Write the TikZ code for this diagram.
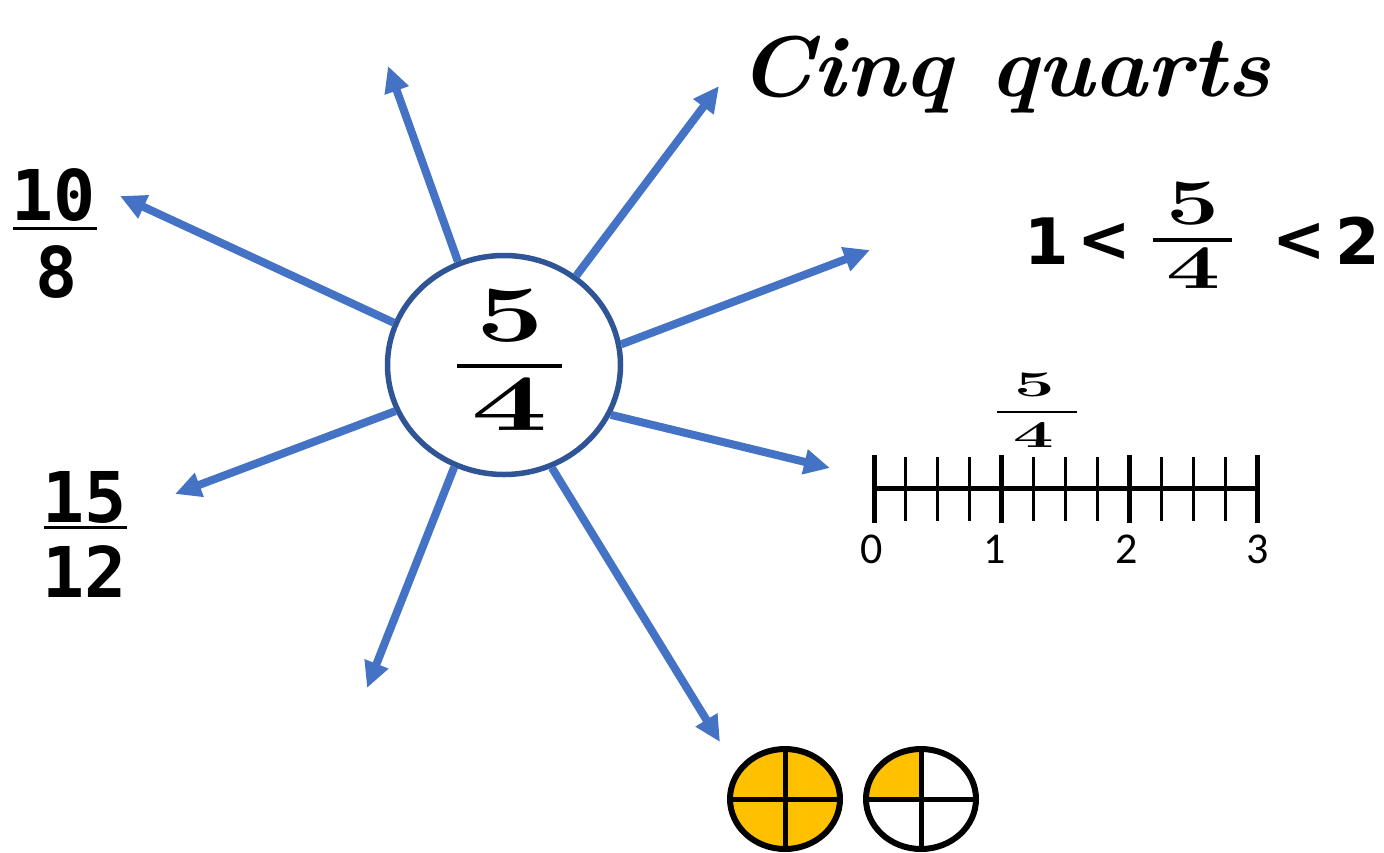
\documentclass[tikz,border=0pt]{standalone}
\usepackage{fontspec}
\usepackage{graphicx}
\usetikzlibrary{arrows.meta,shapes.geometric}
\newfontfamily\monofont{DejaVu Sans Mono}
\newfontfamily\dvsans{DejaVu Sans}
\newfontfamily\calfont{Carlito}
\definecolor{arrowblue}{HTML}{4472C4}
\definecolor{ringblue}{HTML}{2F5597}
\definecolor{pieyellow}{HTML}{FFC000}

\begin{document}
\begin{tikzpicture}[x=1pt,y=-1pt,
    ray/.style={arrowblue, line width=8pt, -{Triangle[length=26pt,width=24pt]}},
    digit/.style={inner sep=0pt, anchor=center},
    pie/.style={ellipse, draw, line width=6pt, inner sep=0pt, minimum width=110pt, minimum height=100pt}]
    \useasboundingbox (0,0) rectangle (1384,852);

    \node[ellipse, draw=ringblue, line width=5.5pt, inner sep=0pt,
          minimum width=233pt, minimum height=219pt] (whole) at (504,365) {};
    \node[digit] (c5) at (510,316) {\fontsize{80}{80}\selectfont\bfseries\scalebox{1.5}[1]{5}};
    \node[digit] (c4) at (510,404) {\fontsize{80}{80}\selectfont\bfseries\scalebox{1.7}[1]{4}};
    \draw[line width=4pt] (457,366) -- (562,366);

    \coordinate (t1) at (388,66);
    \coordinate (t2) at (719,86);
    \coordinate (t3) at (870,250);
    \coordinate (t4) at (830,468);
    \coordinate (t5) at (720,742);
    \coordinate (t6) at (367,688);
    \coordinate (t7) at (175,494);
    \coordinate (t8) at (120,196);
    \foreach \a/\t in {114.5/t1, 51/t2, 10.7/t3, -25.7/t4, -65.7/t5, 244.3/t6, 203.8/t7, 159.3/t8}
        \draw[ray] (whole.\a) -- (\t);

    \node[anchor=base west, inner sep=0pt] (words) at (738,96)
        {\fontsize{86}{86}\selectfont\bfseries\itshape\scalebox{1.05}[1]{Cinq quarts}};

    \node[digit] (n10) at (54,195) {\fontsize{70}{70}\selectfont\monofont\bfseries 10};
    \draw[line width=3pt] (13,228) -- (97,228);
    \node[digit] (d8) at (57,272) {\fontsize{70}{70}\selectfont\monofont\bfseries 8};
    \node[digit] (n15) at (85,497) {\fontsize{70}{70}\selectfont\monofont\bfseries 15};
    \draw[line width=3pt] (44,527) -- (127,527);
    \node[digit] (d12) at (85,572) {\fontsize{70}{70}\selectfont\monofont\bfseries 12};

    \node[digit] (one) at (1047,241) {\fontsize{64}{64}\selectfont\dvsans\bfseries 1};
    \node[digit] (lt1) at (1104,242) {\fontsize{64}{64}\selectfont\dvsans\bfseries <};
    \node[digit] (r5) at (1193,204) {\fontsize{65}{65}\selectfont\bfseries\scalebox{1.45}[1]{5}};
    \draw[line width=4pt] (1153,240) -- (1232,240);
    \node[digit] (r4) at (1194,268) {\fontsize{62}{62}\selectfont\bfseries\scalebox{1.55}[1]{4}};
    \node[digit] (lt2) at (1299,242) {\fontsize{64}{64}\selectfont\dvsans\bfseries <};
    \node[digit] (two) at (1358,241) {\fontsize{64}{64}\selectfont\dvsans\bfseries 2};

    \draw[line width=5pt] (874,488) -- (1257,488);
    \foreach \i in {0,...,12}
        \draw[line width=3pt] ({874+31.92*\i},457) -- ({874+31.92*\i},521);
    \foreach \i in {0,...,3}
        \draw[line width=5pt] ({874+127.67*\i},455) -- ({874+127.67*\i},523);
    \foreach \i/\x in {0/872, 1/995, 2/1127, 3/1258}
        \node[digit] (lab\i) at (\x,549) {\fontsize{44}{44}\selectfont\calfont \i};
    \node[digit] (s5) at (1035,385) {\fontsize{36}{36}\selectfont\bfseries\scalebox{2}[1]{5}};
    \draw[line width=2.5pt] (997,412) -- (1077,412);
    \node[digit] (s4) at (1034,435) {\fontsize{38}{38}\selectfont\bfseries\scalebox{1.9}[1]{4}};

    \node[pie, fill=pieyellow] (pieA) at (785,799) {};
    \draw[line width=5pt] (pieA.north) -- (pieA.south);
    \draw[line width=5pt] (pieA.west) -- (pieA.east);
    \fill[pieyellow] (921,799) -- ++(-53,0) arc[start angle=180, end angle=90, x radius=53pt, y radius=48pt] -- cycle;
    \node[pie] (pieB) at (921,799) {};
    \draw[line width=5pt] (pieB.north) -- (pieB.south);
    \draw[line width=5pt] (pieB.west) -- (pieB.east);
\end{tikzpicture}
\end{document}
